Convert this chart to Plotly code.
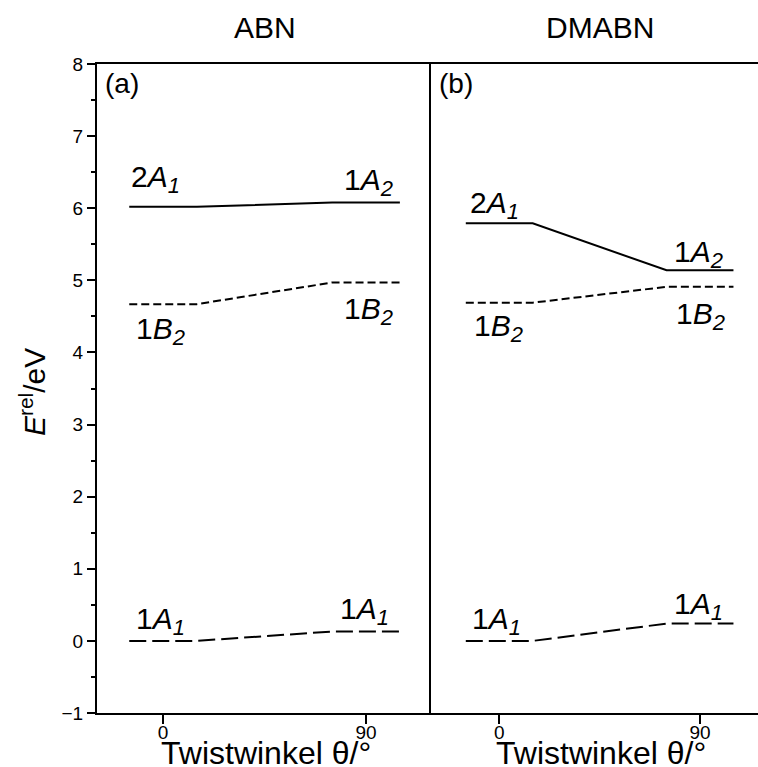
import plotly.graph_objects as go

# Twist-angle nodes of each correlation line (deg)
theta = [-15, 15, 75, 105]

# Relative energies (eV) at planar (0°) and twisted (90°) geometry
abn_2A1_1A2 = [6.02, 6.02, 6.08, 6.08]
abn_1B2 = [4.67, 4.67, 4.97, 4.97]
abn_1A1 = [0.0, 0.0, 0.13, 0.13]

dmabn_2A1_1A2 = [5.79, 5.79, 5.14, 5.14]
dmabn_1B2 = [4.69, 4.69, 4.91, 4.91]
dmabn_1A1 = [0.0, 0.0, 0.24, 0.24]

panel_titles = ["ABN", "DMABN"]
panel_tags = ["(a)", "(b)"]
x_title = "Twistwinkel θ/°"
y_title = "<i>E</i><sup>rel</sup>/eV"
tick_vals = [0, 90]

FONT = "Liberation Sans, Arial, Helvetica, sans-serif"
W, H = 758, 767
L, T, B = 97, 64, 54
split = (431 - L) / (W - L)


def font(size):
    return dict(family=FONT, size=size, color="black")


fig = go.Figure()

styles = {
    "solid": dict(color="black", width=2, dash="solid"),
    "short": dict(color="black", width=2, dash="8px,4px"),
    "long": dict(color="black", width=2, dash="17px,6px"),
}

panels = [
    ("x", "y", abn_2A1_1A2, abn_1B2, abn_1A1),
    ("x2", "y2", dmabn_2A1_1A2, dmabn_1B2, dmabn_1A1),
]
for xa, ya, upper, b2, gs in panels:
    for ys, st in ((upper, "solid"), (b2, "short"), (gs, "long")):
        fig.add_trace(go.Scatter(x=theta, y=ys, mode="lines", line=styles[st],
                                 xaxis=xa, yaxis=ya, showlegend=False,
                                 hoverinfo="skip"))


def state(n, sym, idx):
    return (f"{n}<i>{sym}</i><sub><span style='font-size:22px'>"
            f"<i>{idx}</i></span></sub>")


# (text, x, y, anchor) per panel
labels = [
    [
        (state(2, "A", 1), -15, 6.40, "left"),
        (state(1, "A", 2), 103, 6.36, "right"),
        (state(1, "B", 2), -13, 4.30, "left"),
        (state(1, "B", 2), 103, 4.58, "right"),
        (state(1, "A", 1), -13, 0.28, "left"),
        (state(1, "A", 1), 101, 0.41, "right"),
    ],
    [
        (state(2, "A", 1), -14, 6.05, "left"),
        (state(1, "A", 2), 101, 5.37, "right"),
        (state(1, "B", 2), -12, 4.34, "left"),
        (state(1, "B", 2), 102, 4.50, "right"),
        (state(1, "A", 1), -13, 0.28, "left"),
        (state(1, "A", 1), 101, 0.48, "right"),
    ],
]
annotations = []
for (xa, ya, *_), labs in zip(panels, labels):
    for text, xv, yv, anc in labs:
        annotations.append(dict(text=text, x=xv, y=yv, xref=xa, yref=ya,
                                xanchor=anc, yanchor="middle", showarrow=False,
                                font=font(30)))

for i, (xa, ya, *_) in enumerate(panels):
    dom = "x domain" if i == 0 else "x2 domain"
    # panel tag in the upper-left corner
    annotations.append(dict(text=panel_tags[i], x=0, y=1, xref=dom,
                            yref="paper", xanchor="left", yanchor="middle",
                            xshift=6, yshift=-19, showarrow=False,
                            font=font(28)))
    # molecule name above the panel
    annotations.append(dict(text=panel_titles[i], x=45, y=1, xref=xa,
                            yref="paper", xanchor="center", yanchor="middle",
                            yshift=37, showarrow=False, font=font(30)))
    # twist-angle axis title along the bottom edge of the figure
    annotations.append(dict(text=x_title, x=45.5, y=0, xref=xa,
                            yref="paper", xanchor="center", yanchor="middle",
                            yshift=-40, showarrow=False, font=font(32)))

# energy axis title
annotations.append(dict(text=y_title, x=0, y=3.45, xref="paper", yref="y",
                        xanchor="center", yanchor="middle", textangle=-90,
                        xshift=-64, showarrow=False, font=font(30)))

axis_common = dict(showgrid=False, zeroline=False, showline=True,
                   linecolor="black", linewidth=2, tickcolor="black",
                   tickwidth=2, ticks="outside", tickfont=font(19))

fig.update_layout(
    width=W, height=H,
    margin=dict(l=L, r=0, t=T, b=B),
    paper_bgcolor="white", plot_bgcolor="white",
    annotations=annotations,
    xaxis=dict(domain=[0, split], range=[-29.3, 118.8], tickvals=tick_vals,
               mirror=True, anchor="y", ticklen=9, ticklabelstandoff=-8,
               **axis_common),
    xaxis2=dict(domain=[split, 1], range=[-30.6, 116.0], tickvals=tick_vals,
                mirror=True, anchor="y2", ticklen=9, ticklabelstandoff=-8,
                **axis_common),
    yaxis=dict(range=[-1, 8], dtick=1, anchor="x", mirror=False, ticklen=8,
               minor=dict(dtick=0.5, ticks="outside", ticklen=4,
                          tickwidth=2, tickcolor="black"),
               **axis_common),
    yaxis2=dict(range=[-1, 8], anchor="x2", showgrid=False, zeroline=False,
                showline=True, linecolor="black", linewidth=2,
                ticks="", showticklabels=False),
)

fig.write_html("out.html")
